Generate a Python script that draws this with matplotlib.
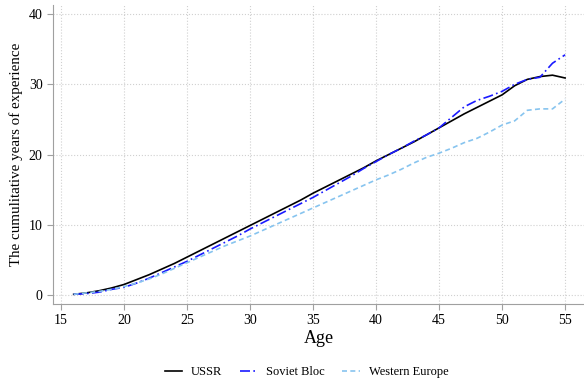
import matplotlib
matplotlib.use("Agg")
import matplotlib.pyplot as plt

# Возраст и накопленный стаж по регионам
age = list(range(16, 56))
ussr = [0.1, 0.3, 0.6, 1.0, 1.5, 2.2, 2.9, 3.7, 4.5, 5.4, 6.3, 7.2, 8.1, 9.0, 9.9,
        10.8, 11.7, 12.6, 13.5, 14.5, 15.4, 16.3, 17.2, 18.1, 19.1, 20.0, 20.9, 21.8,
        22.8, 23.8, 24.8, 25.8, 26.7, 27.6, 28.5, 29.8, 30.7, 31.1, 31.3, 30.9]
soviet_bloc = [0.1, 0.2, 0.4, 0.8, 1.1, 1.7, 2.4, 3.2, 4.0, 4.8, 5.7, 6.6, 7.5, 8.4, 9.4,
               10.3, 11.2, 12.1, 13.0, 13.9, 14.9, 15.9, 16.9, 18.0, 19.0, 20.0, 20.9, 21.9,
               22.8, 23.8, 25.3, 26.8, 27.7, 28.3, 29.0, 30.0, 30.7, 31.0, 33.0, 34.2]
western_europe = [0.1, 0.3, 0.5, 0.8, 1.2, 1.7, 2.3, 3.0, 3.8, 4.6, 5.4, 6.2, 7.0, 7.7, 8.4,
                  9.2, 10.0, 10.8, 11.6, 12.4, 13.2, 14.0, 14.8, 15.6, 16.4, 17.1, 17.9, 18.8,
                  19.6, 20.2, 20.9, 21.7, 22.3, 23.2, 24.2, 24.8, 26.3, 26.5, 26.5, 27.9]

plt.rcParams['font.family'] = ['Liberation Serif', 'DejaVu Serif']

fig = plt.figure(figsize=(5.84, 3.80), dpi=100)
ax = fig.add_axes([0.091, 0.2, 0.909, 0.787])

ax.plot(age, ussr, color='black', linewidth=1.2, label='USSR')
ax.plot(age, soviet_bloc, color='#1a1aff', linewidth=1.2, linestyle=(0, (6, 2, 1, 2)), label='Soviet Bloc')
ax.plot(age, western_europe, color='#87c4ef', linewidth=1.2, linestyle=(0, (3, 2)), label='Western Europe')

ax.set_xlim(14.37, 56.5)
ax.set_ylim(-1.28, 41.3)
ax.set_xticks([15, 20, 25, 30, 35, 40, 45, 50, 55])
ax.set_yticks([0, 10, 20, 30, 40])
ax.grid(True, color='#d0d0d0', linestyle=':', linewidth=0.8)
ax.set_axisbelow(True)

for side in ['top', 'right']:
    ax.spines[side].set_visible(False)
for side in ['left', 'bottom']:
    ax.spines[side].set_color('#a0a0a0')
ax.tick_params(colors='#a0a0a0', labelcolor='black', labelsize=10, length=4)

ax.set_xlabel('Age', fontsize=13, labelpad=2)
ax.set_ylabel('The cumulitative years of experience', fontsize=10.8)

fig.legend(loc='lower center', ncol=3, frameon=False, fontsize=9,
           bbox_to_anchor=(0.525, -0.025), handlelength=1.4, handletextpad=0.7,
           columnspacing=1.4)

fig.savefig('out.png', dpi=100)
